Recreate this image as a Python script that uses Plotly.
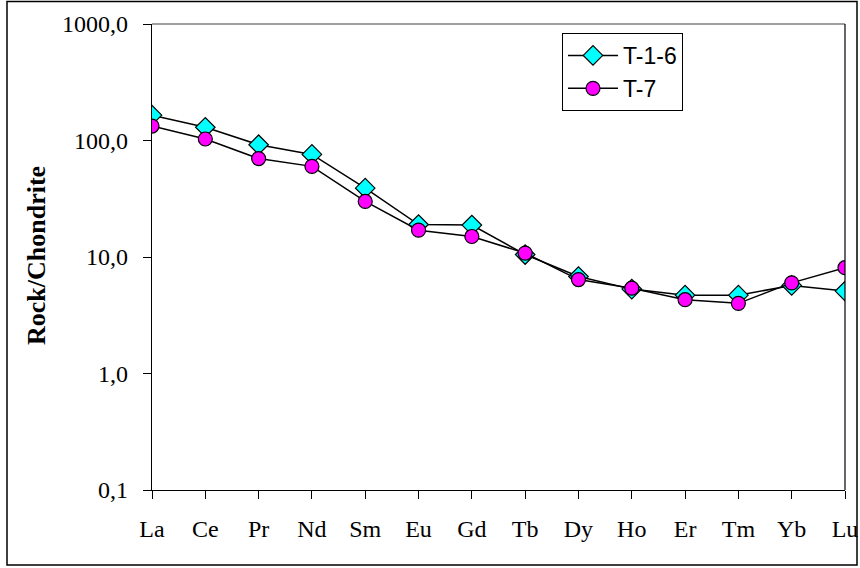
import plotly.graph_objects as go

elements = ["La", "Ce", "Pr", "Nd", "Sm", "Eu", "Gd", "Tb", "Dy", "Ho", "Er", "Tm", "Yb", "Lu"]
t_1_6 = [165, 130, 92, 76, 39, 19, 18.8, 10.5, 6.8, 5.3, 4.7, 4.7, 5.7, 5.1]
t_7 = [133, 103, 70, 60, 30, 17, 15, 10.8, 6.4, 5.4, 4.3, 4.0, 6.0, 8.1]
y_tickvals = [0.1, 1, 10, 100, 1000]
y_ticktext = ["0,1", "1,0", "10,0", "100,0", "1000,0"]

fig = go.Figure()
fig.add_trace(go.Scatter(
    x=elements, y=t_1_6, name="T-1-6", mode="lines+markers",
    line=dict(color="black", width=1.5),
    marker=dict(symbol="diamond", size=15, color="#00FFFF", line=dict(color="black", width=1.2)),
))
fig.add_trace(go.Scatter(
    x=elements, y=t_7, name="T-7", mode="lines+markers",
    line=dict(color="black", width=1.5),
    marker=dict(symbol="circle", size=14, color="#FF00FF", line=dict(color="black", width=1.2)),
))

L, R, T, B = 152, 845, 24, 490
W, H = 860, 568
pw, ph = R - L, B - T

def px(x):
    return (x - L) / pw

def py(y):
    return (B - y) / ph

fig.update_layout(
    template="none",
    width=W, height=H,
    margin=dict(l=L, r=W - R, t=T, b=H - B, pad=0, autoexpand=False),
    paper_bgcolor="white", plot_bgcolor="white",
    showlegend=True,
    legend=dict(
        x=px(562), y=py(33), xanchor="left", yanchor="top",
        bordercolor="black", borderwidth=1, bgcolor="white",
        font=dict(family="Liberation Sans", size=23, color="black"),
        tracegroupgap=0, itemwidth=50,
    ),
    xaxis=dict(
        type="category", range=[0, len(elements) - 1], automargin=False,
        showgrid=False, zeroline=False,
        showline=True, linecolor="black", linewidth=1.2,
        ticks="outside", ticklen=8, tickcolor="black", tickwidth=1.2,
        tickfont=dict(family="Liberation Serif", size=24, color="black"),
        ticklabelstandoff=9,
    ),
    yaxis=dict(
        type="log", range=[-1, 3], automargin=False,
        tickvals=y_tickvals, ticktext=y_ticktext,
        showgrid=False, zeroline=False,
        showline=True, linecolor="black", linewidth=1.2,
        ticks="outside", ticklen=8, tickcolor="black", tickwidth=1.2,
        tickfont=dict(family="Liberation Serif", size=24, color="black"),
        ticklabelstandoff=10,
    ),
    shapes=[
        dict(type="line", xref="paper", yref="paper", x0=0, x1=1, y0=1, y1=1,
             line=dict(color="#808080", width=1.5)),
        dict(type="line", xref="paper", yref="paper", x0=1, x1=1, y0=0, y1=1,
             line=dict(color="black", width=1.2)),
        dict(type="rect", xref="paper", yref="paper",
             x0=px(7), x1=px(857), y0=py(565), y1=py(1.5),
             line=dict(color="black", width=1.5)),
    ],
    annotations=[
        dict(text="<b>Rock/Chondrite</b>", xref="paper", yref="paper",
             x=px(37), y=py(256), xanchor="center", yanchor="middle",
             textangle=-90, showarrow=False,
             font=dict(family="Liberation Serif", size=26, color="black")),
    ],
)

fig.write_html(
    "out.html", config={"displayModeBar": False},
    post_script="document.body.style.margin='0';document.body.style.overflow='hidden';"
                "document.documentElement.style.overflow='hidden';",
)
